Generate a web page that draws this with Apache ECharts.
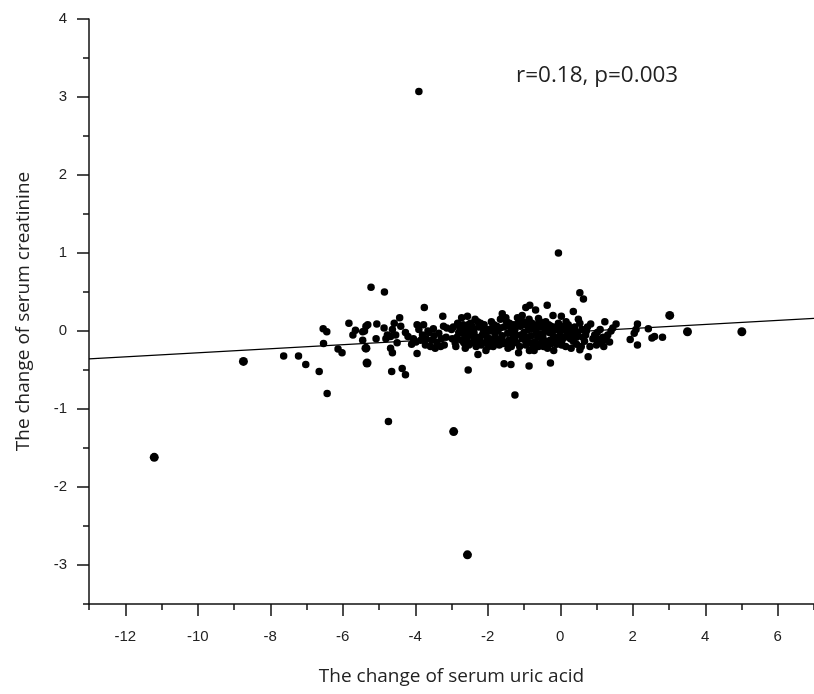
<!DOCTYPE html>
<html>
<head>
<meta charset="utf-8">
<script src="https://cdn.jsdelivr.net/npm/echarts@6/dist/echarts.min.js"></script>
<style>html,body{margin:0;padding:0;background:#fff}#c{width:814px;height:694px}</style>
</head>
<body>
<div id="c"></div>
<script>
// Axis ticks
var xMajorTicks = [-12, -10, -8, -6, -4, -2, 0, 2, 4, 6];
var xMinorTicks = [-13, -11, -9, -7, -5, -3, -1, 1, 3, 5, 7];
var yMajorTicks = [-3, -2, -1, 0, 1, 2, 3, 4];
var yMinorTicks = [-3.5, -2.5, -1.5, -0.5, 0.5, 1.5, 2.5, 3.5];

// Fitted regression line (endpoints at axis limits)
var fitX = [-13, 7];
var fitY = [-0.358, 0.162];

// Larger dots
var largePts = [
  [-11.2, -1.62], [-8.74, -0.39], [-2.56, -2.87], [3.02, 0.20], [3.51, -0.01],
  [5.01, -0.01], [-5.33, -0.41], [-5.36, -0.22], [-2.94, -1.29]
];

// Outlying / sparse dots
var sparsePts = [
  [-3.90, 3.07], [-0.05, 1.00], [-5.22, 0.56], [-4.85, 0.50], [0.54, 0.49], [0.64, 0.41],
  [-4.74, -1.16], [-1.25, -0.82], [-6.43, -0.80],
  [-7.63, -0.32], [-7.22, -0.32], [-7.02, -0.43], [-6.65, -0.52], [-6.54, 0.03], [-6.44, -0.01],
  [-6.53, -0.16], [-6.13, -0.23], [-6.02, -0.28], [-5.83, 0.10], [-5.72, -0.05], [-5.65, 0.01],
  [-5.45, -0.01], [-5.36, 0.06], [-5.31, 0.08], [-5.45, -0.12], [-5.08, -0.10], [-5.06, 0.09],
  [-4.81, -0.10], [-5.40, 0.00],
  [2.13, 0.09], [2.09, 0.02], [2.04, -0.03], [1.93, -0.11], [2.13, -0.18], [2.43, 0.03],
  [2.53, -0.09], [2.82, -0.08], [2.60, -0.07]
];

// Dots in the band x -5 .. -3
var bandA = [
  [-4.86, 0.04], [-4.77, -0.05], [-4.63, 0.02], [-4.54, -0.05], [-4.68, -0.07], [-4.50, -0.15],
  [-4.68, -0.22], [-4.63, -0.28], [-4.43, 0.17], [-4.27, -0.02], [-4.20, -0.07], [-3.95, 0.08],
  [-3.77, 0.08], [-3.90, 0.02], [-3.95, -0.29], [-4.65, -0.52], [-4.36, -0.48], [-4.27, -0.56],
  [-3.75, 0.30], [-3.24, 0.19], [-3.80, -0.05], [-3.70, -0.10], [-3.62, -0.02], [-3.55, -0.12],
  [-3.48, -0.06], [-3.40, -0.15], [-3.35, -0.03], [-3.28, -0.10], [-3.20, -0.18], [-3.15, -0.08],
  [-3.72, -0.18], [-3.58, -0.20], [-3.45, -0.22], [-3.30, -0.20], [-3.85, -0.12], [-3.65, 0.00],
  [-3.50, 0.03], [-4.05, -0.10], [-4.10, -0.17], [-3.98, -0.14], [-3.22, 0.06], [-3.13, 0.04],
  [-3.00, 0.02], [-4.40, 0.06], [-4.58, 0.10]
];

// Dots in the band x -3 .. -1.5
var bandB = [
  [-2.72, 0.17], [-2.56, 0.19], [-2.68, 0.08], [-2.54, 0.08], [-2.85, -0.08], [-2.72, -0.12],
  [-2.45, -0.15], [-2.32, -0.20], [-2.27, -0.30], [-2.54, -0.50], [-2.90, -0.15], [-2.80, -0.02],
  [-2.62, -0.05], [-2.50, -0.02], [-2.40, 0.03], [-2.30, -0.08], [-2.20, 0.10], [-2.15, -0.05],
  [-2.08, -0.15], [-2.00, 0.02], [-1.95, -0.10], [-1.90, 0.12], [-1.85, -0.20], [-1.80, -0.03],
  [-1.75, 0.06], [-1.70, -0.12], [-1.65, 0.15], [-1.60, -0.06], [-2.35, 0.15], [-2.62, -0.22],
  [-2.05, -0.25], [-1.55, -0.42], [-1.36, -0.43], [-1.50, 0.17],
  [-2.95, 0.05], [-2.88, -0.20], [-2.76, 0.03], [-2.66, -0.15], [-2.58, -0.10], [-2.48, 0.10],
  [-2.42, -0.06], [-2.36, -0.12], [-2.25, 0.05], [-2.18, -0.18], [-2.12, 0.00], [-2.02, -0.08],
  [-1.92, -0.15], [-1.88, 0.04], [-1.78, -0.10], [-1.72, 0.00], [-1.68, -0.18], [-1.62, -0.10]
];

// Dots in the band x -1.5 .. 0
var bandC = [
  [-1.55, 0.05], [-1.50, -0.15], [-1.45, -0.03], [-1.40, 0.10], [-1.35, -0.20], [-1.30, -0.08],
  [-1.25, 0.02], [-1.20, -0.15], [-1.18, 0.17], [-1.15, -0.28], [-1.10, 0.06], [-1.05, -0.10],
  [-1.00, -0.02], [-0.95, 0.30], [-0.95, -0.18], [-0.90, 0.10], [-0.86, 0.15], [-0.84, 0.33],
  [-0.85, -0.25], [-0.80, -0.06], [-0.75, 0.03], [-0.70, -0.14], [-0.68, 0.27], [-0.65, 0.08],
  [-0.60, -0.20], [-0.55, -0.04], [-0.50, 0.05], [-0.45, -0.12], [-0.40, 0.12], [-0.36, 0.33],
  [-0.35, -0.22], [-0.30, -0.02], [-0.27, -0.41], [-0.25, 0.06], [-0.20, -0.10], [-0.15, 0.02],
  [-0.10, -0.17], [-0.05, 0.10], [0.00, -0.05], [0.03, 0.19], [-0.86, -0.45], [-1.05, 0.20],
  [-0.60, 0.16], [-0.20, 0.20], [-1.60, 0.22],
  [-1.42, -0.12], [-1.38, 0.05], [-1.32, -0.15], [-1.28, 0.08], [-1.22, -0.05], [-1.12, -0.20],
  [-1.08, -0.05], [-0.98, 0.08], [-0.92, -0.08], [-0.82, -0.15], [-0.78, 0.10], [-0.72, -0.25],
  [-0.62, -0.08], [-0.58, 0.05], [-0.52, -0.15], [-0.48, -0.06], [-0.42, 0.02], [-0.38, -0.18],
  [-0.32, 0.08], [-0.28, -0.12], [-0.22, -0.02], [-0.18, -0.25], [-0.12, 0.05], [-0.08, -0.10]
];

// Dots in the band x 0 .. 1.6
var bandD = [
  [0.36, 0.25], [0.50, 0.15], [0.54, 0.10], [0.84, 0.09], [1.23, 0.12], [1.54, 0.09],
  [0.10, 0.02], [0.20, -0.03], [0.35, 0.00], [0.28, -0.10], [0.45, -0.08], [0.36, -0.13],
  [0.45, -0.17], [0.58, -0.20], [0.67, -0.13], [0.54, -0.24], [0.77, -0.33], [0.05, -0.12],
  [0.15, -0.20], [0.60, 0.02], [0.70, -0.05], [0.95, -0.05], [1.05, -0.11], [1.14, -0.15],
  [1.27, -0.11], [1.31, -0.05], [1.40, 0.00], [1.45, 0.04], [1.00, -0.18], [1.20, -0.20],
  [0.90, -0.10], [1.10, 0.02], [0.75, 0.05], [0.08, 0.06], [0.12, -0.08], [0.22, 0.08],
  [0.30, -0.22], [0.40, 0.05], [0.48, -0.02]
];

// Additional dots filling the densest part of the band
var bandE = [
  [-2.98, -0.10], [-2.83, 0.10], [-2.70, -0.03], [-2.60, 0.02], [-2.52, -0.18], [-2.44, 0.06],
  [-2.38, -0.02], [-2.28, 0.12], [-2.22, -0.12], [-2.10, 0.08], [-2.06, -0.02], [-1.98, -0.20],
  [-1.94, 0.00], [-1.83, 0.08], [-1.76, -0.16], [-1.66, 0.04], [-1.58, -0.16], [-1.48, 0.12],
  [-1.44, -0.22], [-1.34, 0.00], [-1.26, -0.10], [-1.16, 0.10], [-1.02, 0.12], [-0.96, -0.12],
  [-0.88, 0.02], [-0.76, -0.18], [-0.66, -0.02], [-0.56, 0.12], [-0.46, -0.20], [-0.34, 0.04],
  [-0.24, -0.16], [-0.14, -0.08], [-0.04, 0.02], [0.04, -0.18], [0.16, 0.12], [0.26, 0.04],
  [0.34, -0.06], [0.62, -0.08], [0.72, 0.00], [0.82, -0.20], [1.02, -0.02], [1.18, -0.08],
  [1.36, -0.14]
];

var annotation = 'r=0.18, p=0.003';
var xTitle = 'The change of serum uric acid';
var yTitle = 'The change of serum creatinine';

var chart = echarts.init(document.getElementById('c'), null, {renderer: 'canvas'});
var smallPts = sparsePts.concat(bandA, bandB, bandC, bandD, bandE);
var fitData = fitX.map(function (x, i) { return [x, fitY[i]]; });

var axisTextStyle = {color: '#222', fontFamily: 'Liberation Sans', fontSize: 15};
var lineStyle = {color: '#111', width: 1.5};

function tickAxis(min, max, values, len, pos) {
  return {
    type: 'value', min: min, max: max, position: pos,
    axisLine: {show: false, onZero: false},
    axisTick: {show: true, inside: false, length: len, lineStyle: lineStyle, customValues: values},
    axisLabel: {show: false},
    splitLine: {show: false}
  };
}

chart.setOption({
  animation: false,
  backgroundColor: '#fff',
  grid: {left: 89, top: 19, right: -9, bottom: 90, containLabel: false},
  xAxis: [{
    type: 'value', min: -13, max: 7, position: 'bottom',
    axisLine: {show: true, onZero: false, lineStyle: lineStyle},
    axisTick: {show: false},
    axisLabel: Object.assign({margin: 25, customValues: xMajorTicks}, axisTextStyle),
    splitLine: {show: false},
    name: xTitle, nameLocation: 'middle', nameGap: 63,
    nameTextStyle: {fontFamily: 'Open Sans', fontSize: 19, color: '#222'}
  },
    tickAxis(-13, 7, xMajorTicks, 12, 'bottom'),
    tickAxis(-13, 7, xMinorTicks, 6, 'bottom')
  ],
  yAxis: [{
    type: 'value', min: -3.5, max: 4, position: 'left',
    axisLine: {show: true, onZero: false, lineStyle: lineStyle},
    axisTick: {show: false},
    axisLabel: Object.assign({margin: 22, customValues: yMajorTicks}, axisTextStyle),
    splitLine: {show: false},
    name: yTitle, nameLocation: 'middle', nameGap: 56, nameRotate: 90,
    nameTextStyle: {fontFamily: 'Open Sans', fontSize: 19, color: '#222'}
  },
    tickAxis(-3.5, 4, yMajorTicks, 12, 'left'),
    tickAxis(-3.5, 4, yMinorTicks, 6, 'left')
  ],
  graphic: [{
    type: 'text', left: 516, top: 64,
    style: {text: annotation, fontFamily: 'Open Sans', fontSize: 22.5, fill: '#222'}
  }],
  series: [{
    type: 'line', data: fitData, symbol: 'none', silent: true,
    lineStyle: {color: '#000', width: 1.3}, z: 1
  }, {
    type: 'scatter', data: smallPts, symbolSize: 7.5,
    itemStyle: {color: '#000', opacity: 1}, z: 2
  }, {
    type: 'scatter', data: largePts, symbolSize: 9,
    itemStyle: {color: '#000', opacity: 1}, z: 2
  }]
});
</script>
</body>
</html>
